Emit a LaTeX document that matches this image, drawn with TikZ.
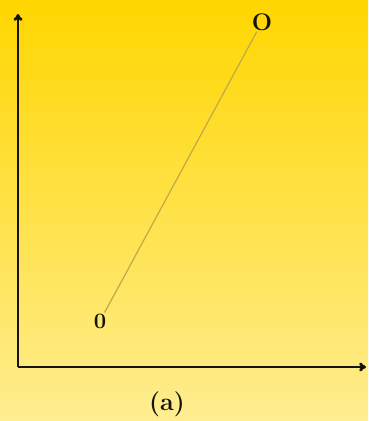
\documentclass[tikz,border=0pt]{standalone}
\usepackage{fontspec}
\usetikzlibrary{arrows.meta,positioning}
\definecolor{gold}{RGB}{255,214,0}
\definecolor{cream}{RGB}{255,237,145}
\definecolor{olive}{RGB}{190,170,70}
\definecolor{ink}{RGB}{20,20,10}
\tikzset{
  >={To[length=2.4mm,width=3.2mm]},
  axis/.style={->,line width=2.8pt,draw=ink},
  pt/.style={font=\bfseries\fontsize{#1}{#1}\selectfont,text=ink,inner sep=0pt},
  pt/.default=16,
  world/.style={draw=olive,line width=1.2pt},
  tag/.style={font=\bfseries\fontsize{25}{25}\selectfont,text=ink,inner sep=0pt},
}
\begin{document}
\begin{tikzpicture}[x=1pt,y=-1pt]
    \shade[top color=gold,bottom color=cream] (0,0) rectangle (368,421);
    \useasboundingbox (0,0) rectangle (368,421);
    \coordinate (orig) at (18,367);
    \coordinate (ytop) at (18,14);
    \coordinate (xend) at (366,367);
    \draw[axis] (orig) -- (ytop);
    \draw[axis] (orig) -- (xend);
    \node[pt=24] (hi) at (262,22) {O};
    \node[pt=22] (lo) at (100,321) {0};
    \draw[world,shorten <=1pt,shorten >=1pt] (lo) -- (hi);
    \node[tag] (cap) at (167,404) {(a)};
  \end{tikzpicture}
\end{document}
